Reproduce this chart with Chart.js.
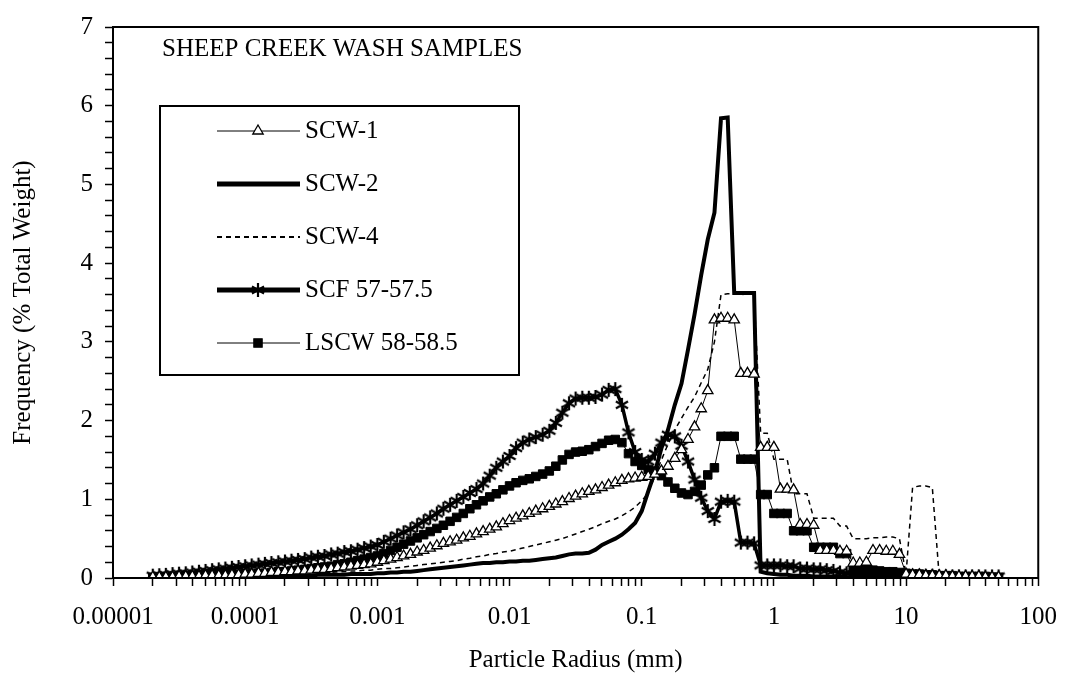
<!DOCTYPE html>
<html>
<head>
<meta charset="utf-8">
<title>Sheep Creek Wash Samples</title>
<script src="https://cdn.jsdelivr.net/npm/chart.js@4.4.1/dist/chart.umd.min.js"></script>
<style>
  html, body { margin: 0; padding: 0; background: #fff; }
  #wrap { width: 1073px; height: 675px; position: relative; }
</style>
</head>
<body>
<div id="wrap"><canvas id="chart"></canvas></div>
<script>
// particle radius (mm), shared by every sample
const radius = [
  2.00e-5, 2.24e-5, 2.51e-5, 2.82e-5, 3.16e-5, 3.55e-5, 3.98e-5, 4.47e-5, 5.01e-5, 5.62e-5, 6.31e-5, 7.08e-5, 7.94e-5, 8.91e-5,
  1.00e-4, 1.12e-4, 1.26e-4, 1.41e-4, 1.58e-4, 1.78e-4, 2.00e-4, 2.24e-4, 2.51e-4, 2.82e-4, 3.16e-4, 3.55e-4, 3.98e-4, 4.47e-4, 5.01e-4, 5.62e-4, 6.31e-4, 7.08e-4, 7.94e-4, 8.91e-4,
  1.00e-3, 1.12e-3, 1.26e-3, 1.41e-3, 1.58e-3, 1.78e-3, 2.00e-3, 2.24e-3, 2.51e-3, 2.82e-3, 3.16e-3, 3.55e-3, 3.98e-3, 4.47e-3, 5.01e-3, 5.62e-3, 6.31e-3, 7.08e-3, 7.94e-3, 8.91e-3,
  1.00e-2, 1.12e-2, 1.26e-2, 1.41e-2, 1.58e-2, 1.78e-2, 2.00e-2, 2.24e-2, 2.51e-2, 2.82e-2, 3.16e-2, 3.55e-2, 3.98e-2, 4.47e-2, 5.01e-2, 5.62e-2, 6.31e-2, 7.08e-2, 7.94e-2, 8.91e-2,
  1.00e-1, 1.12e-1, 1.26e-1, 1.41e-1, 1.58e-1, 1.78e-1, 2.00e-1, 2.24e-1, 2.51e-1, 2.82e-1, 3.16e-1, 3.55e-1, 3.98e-1, 4.47e-1, 5.01e-1, 5.62e-1, 6.31e-1, 7.08e-1, 7.94e-1, 8.91e-1,
  1.00, 1.12, 1.26, 1.41, 1.58, 1.78, 2.00, 2.24, 2.51, 2.82, 3.16, 3.55, 3.98, 4.47, 5.01, 5.62, 6.31, 7.08, 7.94, 8.91,
  10.0, 11.2, 12.6, 14.1, 15.8, 17.8, 20.0, 22.4, 25.1, 28.2, 31.6, 35.5, 39.8, 44.7, 50.1
];

const scw1 = [
  0.01, 0.01, 0.01, 0.01, 0.02, 0.02, 0.02, 0.02, 0.03, 0.03, 0.03, 0.03, 0.04, 0.04,
  0.05, 0.05, 0.06, 0.06, 0.07, 0.07, 0.08, 0.08, 0.09, 0.09, 0.10, 0.11, 0.11, 0.12, 0.13, 0.14, 0.15, 0.16, 0.17, 0.18,
  0.20, 0.22, 0.24, 0.26, 0.28, 0.30, 0.33, 0.35, 0.38, 0.41, 0.44, 0.46, 0.48, 0.51, 0.53, 0.56, 0.59, 0.62, 0.65, 0.69,
  0.73, 0.76, 0.79, 0.82, 0.85, 0.88, 0.91, 0.94, 0.97, 1.01, 1.04, 1.07, 1.10, 1.12, 1.15, 1.18, 1.21, 1.24, 1.26, 1.27,
  1.28, 1.29, 1.32, 1.36, 1.42, 1.52, 1.63, 1.76, 1.92, 2.15, 2.38, 3.28, 3.30, 3.30, 3.28, 2.60, 2.60, 2.59, 1.66, 1.66,
  1.66, 1.13, 1.13, 1.12, 0.68, 0.68, 0.67, 0.35, 0.35, 0.35, 0.34, 0.34, 0.19, 0.19, 0.20, 0.35, 0.35, 0.34, 0.34, 0.30,
  0.05, 0.04, 0.04, 0.03, 0.03, 0.03, 0.03, 0.02, 0.02, 0.02, 0.02, 0.02, 0.01, 0.01, 0.01
];

const scw2 = [
  0.00, 0.00, 0.00, 0.01, 0.01, 0.01, 0.01, 0.01, 0.01, 0.01, 0.02, 0.02, 0.02, 0.02,
  0.02, 0.02, 0.02, 0.02, 0.02, 0.03, 0.03, 0.03, 0.03, 0.03, 0.03, 0.04, 0.04, 0.04, 0.04, 0.04, 0.05, 0.05, 0.05, 0.05,
  0.06, 0.06, 0.07, 0.07, 0.08, 0.08, 0.09, 0.10, 0.11, 0.12, 0.13, 0.14, 0.15, 0.16, 0.17, 0.18, 0.19, 0.19, 0.20, 0.20,
  0.21, 0.21, 0.22, 0.22, 0.23, 0.24, 0.25, 0.26, 0.28, 0.30, 0.31, 0.31, 0.32, 0.36, 0.42, 0.46, 0.50, 0.55, 0.62, 0.70,
  0.85, 1.10, 1.35, 1.65, 1.88, 2.20, 2.47, 2.90, 3.35, 3.85, 4.30, 4.64, 5.84, 5.85, 3.62, 3.62, 3.62, 3.62, 0.08, 0.06,
  0.05, 0.04, 0.04, 0.03, 0.03, 0.03, 0.02, 0.02, 0.02, 0.02, 0.02, 0.01, 0.01, 0.01, 0.01, 0.01, 0.01, 0.01, 0.01, 0.01,
  0.01, 0.01, 0.01, 0.01, 0.01, 0.01, 0.01, 0.01, 0.01, 0.01, 0.01, 0.01, 0.01, 0.01, 0.01
];

const scw4 = [
  0.00, 0.00, 0.01, 0.01, 0.01, 0.01, 0.01, 0.01, 0.02, 0.02, 0.02, 0.02, 0.02, 0.03,
  0.03, 0.03, 0.03, 0.04, 0.04, 0.04, 0.05, 0.05, 0.05, 0.06, 0.06, 0.06, 0.07, 0.07, 0.08, 0.08, 0.09, 0.09, 0.10, 0.10,
  0.11, 0.12, 0.12, 0.13, 0.14, 0.15, 0.16, 0.17, 0.18, 0.19, 0.20, 0.21, 0.22, 0.24, 0.25, 0.27, 0.28, 0.30, 0.31, 0.33,
  0.34, 0.36, 0.38, 0.40, 0.42, 0.44, 0.46, 0.48, 0.50, 0.53, 0.56, 0.59, 0.62, 0.65, 0.69, 0.72, 0.75, 0.79, 0.84, 0.90,
  0.98, 1.08, 1.30, 1.50, 1.70, 1.88, 2.03, 2.17, 2.30, 2.48, 2.65, 3.00, 3.60, 3.61, 3.61, 3.60, 3.61, 3.60, 1.84, 1.84,
  1.51, 1.51, 1.51, 1.07, 1.07, 1.07, 0.76, 0.76, 0.76, 0.76, 0.66, 0.66, 0.50, 0.50, 0.50, 0.51, 0.51, 0.52, 0.52, 0.50,
  0.05, 1.15, 1.17, 1.17, 1.15, 0.03, 0.02, 0.02, 0.02, 0.02, 0.02, 0.01, 0.01, 0.01, 0.01
];

const scf = [
  0.03, 0.035, 0.04, 0.05, 0.055, 0.06, 0.07, 0.08, 0.09, 0.10, 0.11, 0.12, 0.13, 0.14,
  0.15, 0.16, 0.17, 0.18, 0.19, 0.20, 0.21, 0.22, 0.23, 0.24, 0.26, 0.27, 0.28, 0.30, 0.31, 0.33, 0.34, 0.36, 0.38, 0.40,
  0.42, 0.46, 0.50, 0.54, 0.58, 0.62, 0.67, 0.72, 0.77, 0.82, 0.88, 0.93, 0.98, 1.03, 1.08, 1.13, 1.20, 1.30, 1.40, 1.48,
  1.55, 1.65, 1.72, 1.76, 1.79, 1.82, 1.87, 1.97, 2.10, 2.22, 2.28, 2.29, 2.29, 2.30, 2.33, 2.39, 2.40, 2.20, 1.85, 1.60,
  1.50, 1.48, 1.58, 1.72, 1.82, 1.80, 1.68, 1.48, 1.25, 1.02, 0.85, 0.75, 0.97, 0.98, 0.97, 0.45, 0.45, 0.44, 0.16, 0.16,
  0.16, 0.16, 0.15, 0.15, 0.12, 0.12, 0.11, 0.11, 0.10, 0.09, 0.07, 0.06, 0.05, 0.05, 0.04, 0.04, 0.04, 0.04, 0.03, 0.03,
  0.03, 0.03, 0.03, 0.03, 0.03, 0.02, 0.02, 0.02, 0.02, 0.02, 0.02, 0.02, 0.02, 0.02, 0.02
];

const lscw = [
  0.01, 0.01, 0.01, 0.01, 0.02, 0.02, 0.02, 0.02, 0.03, 0.03, 0.03, 0.04, 0.04, 0.04,
  0.05, 0.05, 0.06, 0.06, 0.07, 0.08, 0.08, 0.09, 0.10, 0.11, 0.12, 0.13, 0.14, 0.15, 0.17, 0.18, 0.20, 0.22, 0.24, 0.26,
  0.28, 0.31, 0.35, 0.39, 0.43, 0.47, 0.51, 0.55, 0.59, 0.63, 0.67, 0.72, 0.77, 0.82, 0.88, 0.93, 0.98, 1.03, 1.07, 1.12,
  1.17, 1.21, 1.24, 1.26, 1.29, 1.32, 1.36, 1.42, 1.50, 1.57, 1.60, 1.61, 1.63, 1.67, 1.71, 1.75, 1.76, 1.72, 1.58, 1.48,
  1.43, 1.38, 1.36, 1.30, 1.22, 1.14, 1.08, 1.06, 1.10, 1.18, 1.31, 1.40, 1.80, 1.80, 1.80, 1.51, 1.51, 1.51, 1.06, 1.06,
  0.82, 0.82, 0.82, 0.60, 0.60, 0.60, 0.39, 0.39, 0.39, 0.39, 0.31, 0.31, 0.12, 0.11, 0.10, 0.10, 0.09, 0.08, 0.08, 0.07,
  0.06, 0.05, 0.05, 0.04, 0.04, 0.03, 0.03, 0.03, 0.02, 0.02, 0.02, 0.02, 0.02, 0.01, 0.01
];

const seriesLabels = ['SCW-1', 'SCW-2', 'SCW-4', 'SCF 57-57.5', 'LSCW 58-58.5'];
const decadeTicks = [0.00001, 0.0001, 0.001, 0.01, 0.1, 1, 10, 100];
const decadeLabels = ['0.00001', '0.0001', '0.001', '0.01', '0.1', '1', '10', '100'];
const yTickLabels = ['0', '1', '2', '3', '4', '5', '6', '7'];

const FONT = "'Liberation Serif', 'Times New Roman', serif";
Chart.defaults.font.family = FONT;
Chart.defaults.font.size = 25;
Chart.defaults.color = '#000';

// minor ticks at 2..9 of every decade
const xTickValues = [];
decadeTicks.forEach(d => {
  if (d >= 100) { xTickValues.push(d); return; }
  for (let m = 1; m <= 9; m++) xTickValues.push(m * d);
});

function makeAsterisk() {
  const c = document.createElement('canvas');
  c.width = 16;
  c.height = 16;
  const g = c.getContext('2d');
  g.strokeStyle = '#000';
  g.lineWidth = 2.2;
  g.beginPath();
  [90, 30, 150].forEach(deg => {
    const a = deg * Math.PI / 180;
    g.moveTo(8 - Math.cos(a) * 7, 8 - Math.sin(a) * 7);
    g.lineTo(8 + Math.cos(a) * 7, 8 + Math.sin(a) * 7);
  });
  g.stroke();
  return c;
}
const asterisk = makeAsterisk();

const toPoints = values => radius.map((r, i) => ({ x: r, y: values[i] }));

const datasets = [
  {
    label: seriesLabels[0], data: toPoints(scw1),
    borderColor: '#000', borderWidth: 1,
    pointStyle: 'triangle', pointRadius: 6,
    pointBackgroundColor: '#fff', pointBorderColor: '#000', pointBorderWidth: 1.3,
  },
  {
    label: seriesLabels[1], data: toPoints(scw2),
    borderColor: '#000', borderWidth: 4, pointRadius: 0,
    legendWidth: 5,
  },
  {
    label: seriesLabels[2], data: toPoints(scw4),
    borderColor: '#000', borderWidth: 1.5, borderDash: [5, 4], pointRadius: 0,
    legendWidth: 2,
  },
  {
    label: seriesLabels[3], data: toPoints(scf),
    borderColor: '#000', borderWidth: 3.5,
    pointStyle: asterisk, pointRadius: 7,
    legendWidth: 5,
  },
  {
    label: seriesLabels[4], data: toPoints(lscw),
    borderColor: '#000', borderWidth: 1,
    pointStyle: 'rect', pointRadius: 6,
    pointBackgroundColor: '#000', pointBorderColor: '#000', pointBorderWidth: 1,
  },
];

function drawLegendMarker(ctx, ds, x, y) {
  if (!ds.pointRadius) return;
  const r = ds.pointRadius;
  ctx.save();
  ctx.lineWidth = ds.pointBorderWidth || 1;
  ctx.strokeStyle = '#000';
  ctx.fillStyle = ds.pointBackgroundColor || '#000';
  if (ds.pointStyle === 'triangle') {
    ctx.beginPath();
    ctx.moveTo(x, y - r);
    ctx.lineTo(x + r * 0.866, y + r * 0.5);
    ctx.lineTo(x - r * 0.866, y + r * 0.5);
    ctx.closePath();
    ctx.fill();
    ctx.stroke();
  } else if (ds.pointStyle === 'rect') {
    const s = r * Math.SQRT1_2;
    ctx.fillRect(x - s, y - s, 2 * s, 2 * s);
    ctx.strokeRect(x - s, y - s, 2 * s, 2 * s);
  } else {
    ctx.drawImage(ds.pointStyle, x - ds.pointStyle.width / 2, y - ds.pointStyle.height / 2);
  }
  ctx.restore();
}

const framePlugin = {
  id: 'frame',
  afterDatasetsDraw(chart) {
    const { ctx, chartArea: a } = chart;
    ctx.save();
    ctx.strokeStyle = '#000';
    ctx.lineWidth = 2;
    ctx.strokeRect(a.left, a.top, a.right - a.left, a.bottom - a.top);

    ctx.fillStyle = '#000';
    ctx.font = `25px ${FONT}`;
    ctx.textBaseline = 'middle';
    ctx.fillText('SHEEP CREEK WASH SAMPLES', 162, 49);

    // legend box
    ctx.fillStyle = '#fff';
    ctx.fillRect(160, 106, 359, 269);
    ctx.strokeRect(160, 106, 359, 269);

    chart.data.datasets.forEach((ds, i) => {
      const y = 131 + i * 53;
      ctx.save();
      ctx.strokeStyle = '#000';
      ctx.lineWidth = ds.legendWidth || ds.borderWidth;
      ctx.setLineDash(ds.borderDash || []);
      ctx.beginPath();
      ctx.moveTo(217, y);
      ctx.lineTo(300, y);
      ctx.stroke();
      ctx.restore();
      drawLegendMarker(ctx, ds, 258, y);
      ctx.fillStyle = '#000';
      ctx.fillText(ds.label, 305, y);
    });
    ctx.restore();
  },
};

new Chart(document.getElementById('chart'), {
  type: 'line',
  data: { datasets },
  options: {
    responsive: true,
    maintainAspectRatio: false,
    animation: false,
    layout: { padding: { top: 16, right: 28, left: 0, bottom: 0 } },
    elements: { line: { tension: 0, fill: false, borderJoinStyle: 'miter' } },
    plugins: {
      legend: { display: false },
      tooltip: { enabled: false },
    },
    scales: {
      x: {
        type: 'logarithmic',
        min: 0.00001,
        max: 100,
        afterBuildTicks: scale => { scale.ticks = xTickValues.map(v => ({ value: v })); },
        afterFit: scale => { scale.height = 97; },
        ticks: {
          autoSkip: false,
          maxRotation: 0,
          padding: 16,
          callback: value => {
            const i = decadeTicks.indexOf(value);
            return i >= 0 ? decadeLabels[i] : '';
          },
        },
        grid: { drawOnChartArea: false, tickLength: 8, tickWidth: 1.5, tickColor: '#000' },
        border: { display: true, color: '#000', width: 2 },
        title: { display: true, text: 'Particle Radius (mm)', padding: 0 },
      },
      y: {
        min: 0,
        max: 7,
        afterFit: scale => { scale.width = 113; },
        ticks: {
          stepSize: 0.2,
          autoSkip: false,
          padding: 12,
          callback: value => Math.abs(value - Math.round(value)) < 1e-6 ? yTickLabels[Math.round(value)] : '',
        },
        grid: { drawOnChartArea: false, tickLength: 8, tickWidth: 1.5, tickColor: '#000' },
        border: { display: true, color: '#000', width: 2 },
        title: { display: true, text: 'Frequency (% Total Weight)', padding: { top: 8, bottom: 0 } },
      },
    },
  },
  plugins: [framePlugin],
});
</script>
</body>
</html>
